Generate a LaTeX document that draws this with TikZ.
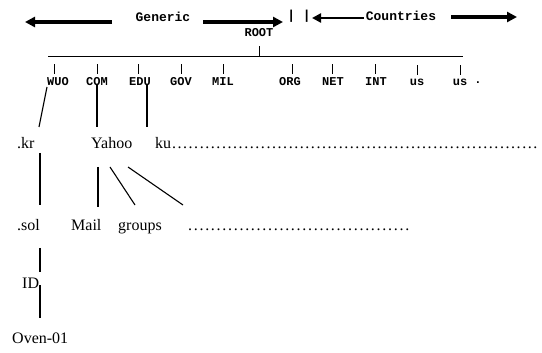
\documentclass[tikz,border=0pt]{standalone}
\usepackage{fontspec}
\setmainfont{Liberation Serif}
\newfontfamily\monofnt{Liberation Mono}
\usetikzlibrary{arrows.meta}
\begin{document}
\begin{tikzpicture}[x=1pt,y=-1pt,
  lbl/.style={font=\monofnt\bfseries\fontsize{12}{12}\selectfont, inner sep=0},
  head/.style={font=\monofnt\bfseries\fontsize{13}{13}\selectfont, inner sep=0},
  txt/.style={font=\fontsize{16}{16}\selectfont, inner sep=0, anchor=base west},
  bigarrow/.style={line width=3.2pt, -{Triangle[length=10pt,width=10pt]}},
  smallarrow/.style={line width=2.6pt, -{Triangle[length=9pt,width=9pt]}},
  link/.style={line width=1.1pt},
  tick/.style={line width=1pt}]
\useasboundingbox (0,0) rectangle (542,353);

% header
\node[head] (gen) at (163,17) {Generic};
\node[head] (bars) at (299,16) {| |};
\node[head] (cty) at (401,16) {Countries};
\coordinate (gLs) at (112,22); \coordinate (gLe) at (25,22);
\coordinate (gRs) at (203,22); \coordinate (gRe) at (283,22);
\coordinate (cLs) at (364,18); \coordinate (cLe) at (312,18);
\coordinate (cRs) at (451,17); \coordinate (cRe) at (517,17);
\draw[bigarrow] (gLs) -- (gLe);
\draw[bigarrow] (gRs) -- (gRe);
\draw[smallarrow] (cLs) -- (cLe);
\draw[bigarrow] (cRs) -- (cRe);

% root and bar
\node[lbl] (root) at (259,33) {ROOT};
\coordinate (barL) at (48,57); \coordinate (barR) at (463,57);
\draw[tick] (barL) -- (barR);
\draw[tick] ([yshift=-9pt]root.south) -- (root.south |- barL);

% top level domains
\node[lbl] (wuo) at (58,82) {WUO};
\node[lbl] (com) at (97,82) {COM};
\node[lbl] (edu) at (140,82) {EDU};
\node[lbl] (gov) at (181,82) {GOV};
\node[lbl] (mil) at (223,82) {MIL};
\node[lbl] (org) at (290,82) {ORG};
\node[lbl] (net) at (333,82) {NET};
\node[lbl] (int) at (376,82) {INT};
\node[lbl] (us1) at (417,82) {us};
\node[lbl] (us2) at (460,82) {us};
\node[lbl] (dot) at (478,83) {.};
\draw[tick] ([xshift=-4pt,yshift=4pt]wuo.north) -- ++(0,-10);
\foreach \n/\dx in {com/0,edu/-2,gov/0,mil/0,org/2,net/-1,int/-1,us1/0,us2/0}
  \draw[tick] ([xshift=\dx pt,yshift=4pt]\n.north) -- ++(0,-10);

% second level
\node[txt] (kr) at (17,149) {.kr};
\node[txt] (yahoo) at (91,149) {Yahoo};
\node[txt] (ku) at (155,149) {\hbox to 383pt{ku\xleaders\hbox to 5.5pt{\hss.\hss}\hfill}};

\coordinate (wuoB) at (47,87);  \coordinate (krT) at (39,127);
\coordinate (comB) at (97,85);  \coordinate (yahooT) at (97,127);
\coordinate (eduB) at (147,85); \coordinate (kuT) at (147,127);
\draw[link] (wuoB) -- (krT);
\draw[link] (comB) -- (yahooT);
\draw[link] (eduB) -- (kuT);

% third level
\node[txt] (sol) at (17,231) {.sol};
\node[txt] (mail) at (71,231) {Mail};
\node[txt] (groups) at (118,231) {groups};
\node[txt] (more) at (187,231) {\hbox to 223pt{\xleaders\hbox to 5.6pt{\hss.\hss}\hfill}};

\coordinate (krB) at (40,153);   \coordinate (solT) at (40,205);
\coordinate (yB1) at (98,167);   \coordinate (mailT) at (98,207);
\coordinate (yB2) at (110,167);  \coordinate (groupsT) at (135,205);
\coordinate (yB3) at (128,167);  \coordinate (moreT) at (183,205);
\draw[link] (krB) -- (solT);
\draw[link] (yB1) -- (mailT);
\draw[link] (yB2) -- (groupsT);
\draw[link] (yB3) -- (moreT);

% fourth and fifth level
\node[txt] (id) at (22,288) {ID};
\node[txt] (oven) at (12,343) {Oven-01};
\coordinate (solB) at (40,248); \coordinate (idT) at (40,272);
\coordinate (idB) at (40,285);  \coordinate (ovenT) at (40,318);
\draw[link] (solB) -- (idT);
\draw[link] (idB) -- (ovenT);
\end{tikzpicture}
\end{document}
